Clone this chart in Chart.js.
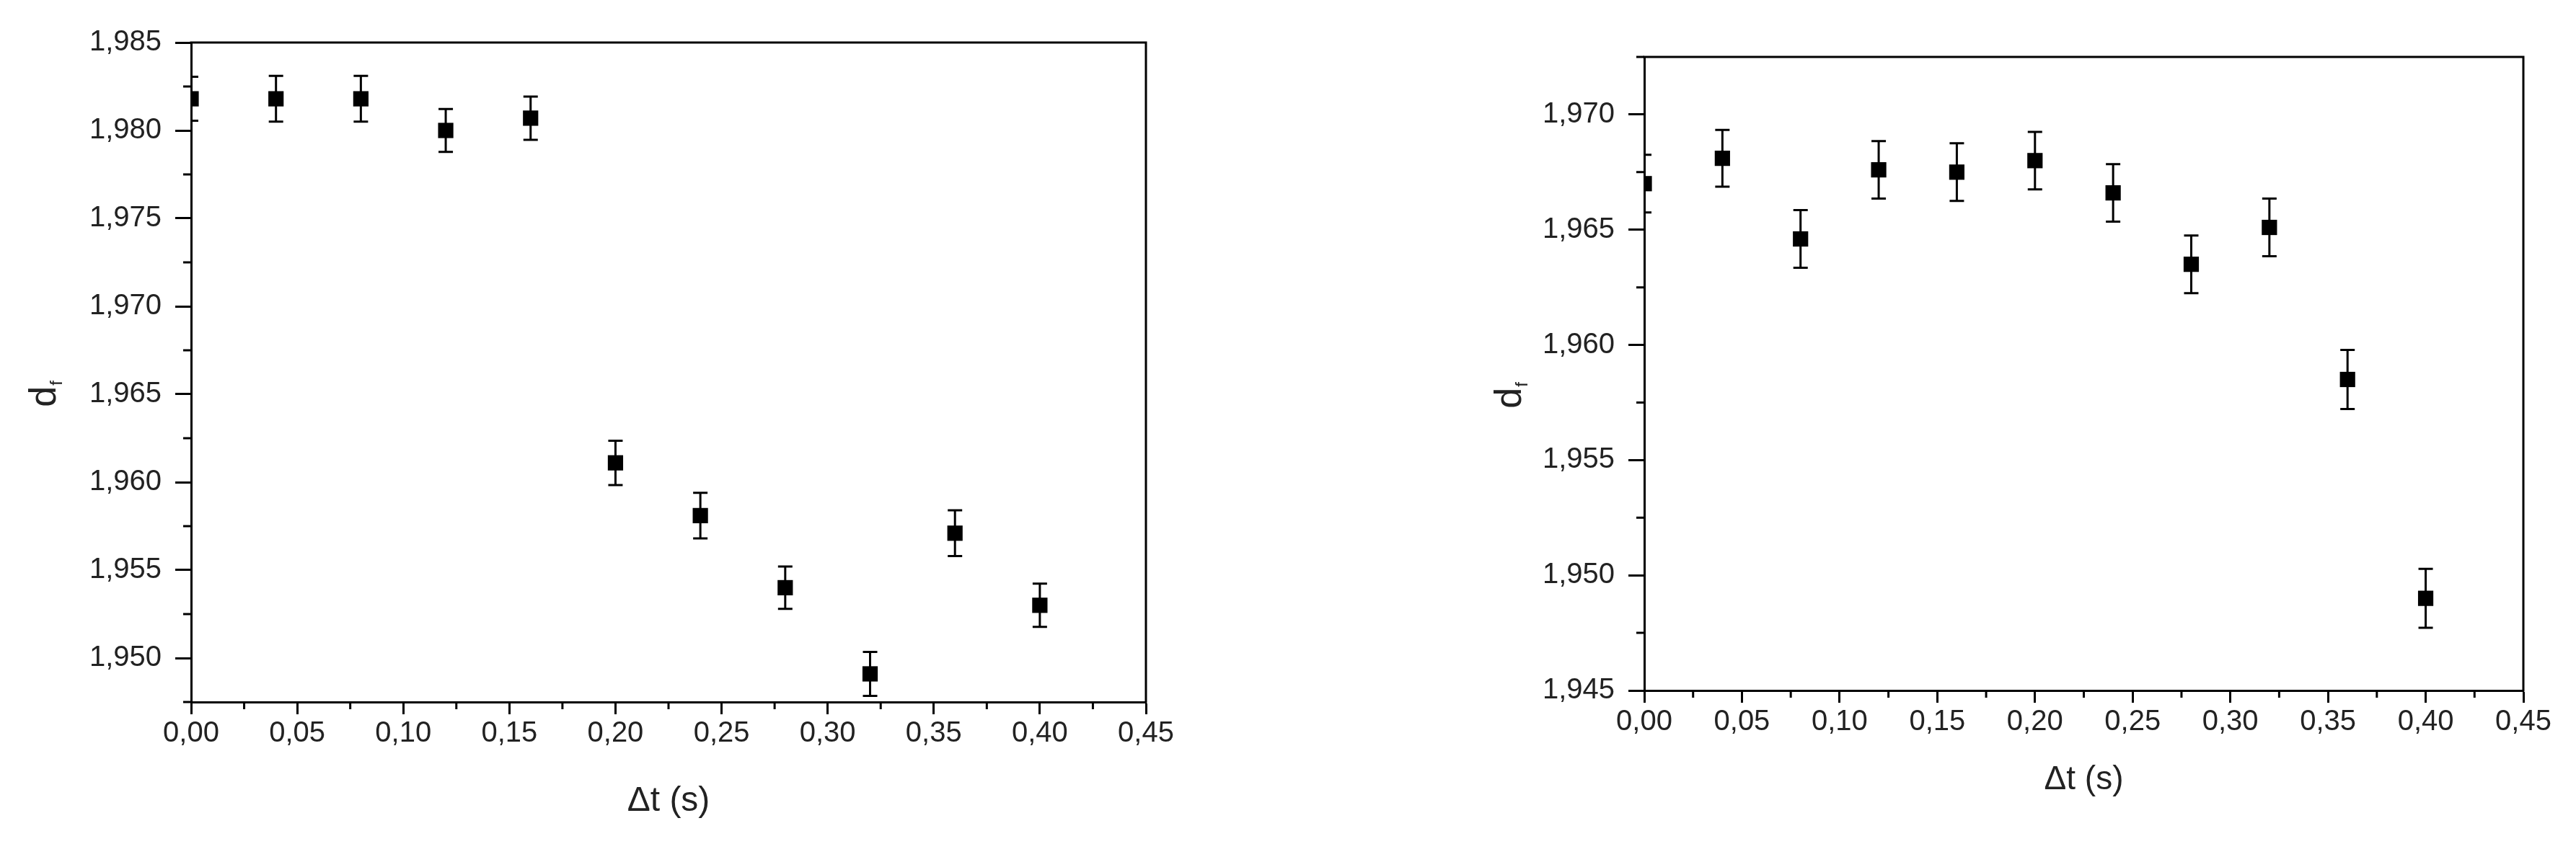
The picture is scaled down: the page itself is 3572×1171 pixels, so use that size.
<!DOCTYPE html>
<html>
<head>
<meta charset="utf-8">
<title>d_f vs Δt</title>
<script src="https://cdn.jsdelivr.net/npm/chart.js@4.4.1/dist/chart.umd.min.js"></script>
<style>
    html, body { margin: 0; padding: 0; background: #fff; }
    body { width: 3572px; height: 1171px; position: relative; overflow: hidden; }
    .panel { position: absolute; top: 0; width: 1786px; height: 1171px; }
</style>
</head>
<body>
<div class="panel" style="left:0"><canvas id="chartLeft" width="1786" height="1171"></canvas></div>
<div class="panel" style="left:1786px"><canvas id="chartRight" width="1786" height="1171"></canvas></div>

<script>
// Dados (Δt em s, d_f e barra de erro)
const timeSteps = [0.00, 0.04, 0.08, 0.12, 0.16, 0.20, 0.24, 0.28, 0.32, 0.36, 0.40];

const dfLeft  = [1.9818, 1.9818, 1.9818, 1.9800, 1.9807, 1.9611, 1.9581, 1.9540, 1.9491, 1.9571, 1.9530];
const errLeft = [0.00125, 0.00130, 0.00130, 0.00122, 0.00123, 0.00126, 0.00130, 0.00120, 0.00125, 0.00130, 0.00123];

const dfRight  = [1.9670, 1.9681, 1.9646, 1.9676, 1.9675, 1.9680, 1.9666, 1.9635, 1.9651, 1.9585, 1.9490];
const errRight = [0.00125, 0.00123, 0.00125, 0.00125, 0.00125, 0.00125, 0.00125, 0.00125, 0.00125, 0.00128, 0.00128];

// Marcas dos eixos
const xTicks      = [0.00, 0.05, 0.10, 0.15, 0.20, 0.25, 0.30, 0.35, 0.40, 0.45];
const xMinorTicks = [0.025, 0.075, 0.125, 0.175, 0.225, 0.275, 0.325, 0.375, 0.425];

const yTicksLeft      = [1.950, 1.955, 1.960, 1.965, 1.970, 1.975, 1.980, 1.985];
const yMinorTicksLeft = [1.9475, 1.9525, 1.9575, 1.9625, 1.9675, 1.9725, 1.9775, 1.9825];

const yTicksRight      = [1.945, 1.950, 1.955, 1.960, 1.965, 1.970];
const yMinorTicksRight = [1.9475, 1.9525, 1.9575, 1.9625, 1.9675, 1.9725];

const xTitle = 'Δt (s)';
const yTitleMain = 'd';
const yTitleSub = 'f';

const FONT = '"Liberation Sans", Arial, sans-serif';
const TEXT_COLOR = '#222';

/**
 * Plugin: barras de erro, moldura, marcas menores e títulos dos eixos
 */
const decorPlugin = {
    id: 'decor',

    beforeDatasetsDraw(chart, args, opts) {
        const { ctx, chartArea, scales } = chart;
        const x = scales.x;
        const y = scales.y;
        const values = chart.data.datasets[0].data;

        ctx.save();
        ctx.beginPath();
        ctx.rect(chartArea.left, chartArea.top, chartArea.width, chartArea.height);
        ctx.clip();
        ctx.strokeStyle = '#000';
        ctx.lineWidth = 3;
        values.forEach((p, i) => {
            const px = x.getPixelForValue(p.x);
            const top = y.getPixelForValue(p.y + opts.errors[i]);
            const bot = y.getPixelForValue(p.y - opts.errors[i]);
            ctx.beginPath();
            ctx.moveTo(px, top);
            ctx.lineTo(px, bot);
            ctx.moveTo(px - 10, top);
            ctx.lineTo(px + 10, top);
            ctx.moveTo(px - 10, bot);
            ctx.lineTo(px + 10, bot);
            ctx.stroke();
        });
        ctx.restore();
    },

    afterDraw(chart, args, opts) {
        const { ctx, chartArea, scales } = chart;
        const x = scales.x;
        const y = scales.y;

        ctx.save();
        ctx.strokeStyle = '#000';
        ctx.lineWidth = 3;
        ctx.lineCap = 'square';

        // Moldura superior e direita
        ctx.beginPath();
        ctx.moveTo(chartArea.left, chartArea.top);
        ctx.lineTo(chartArea.right, chartArea.top);
        ctx.lineTo(chartArea.right, chartArea.bottom);
        ctx.stroke();

        // Marcas menores
        ctx.lineCap = 'butt';
        ctx.beginPath();
        opts.yMinor.forEach(v => {
            const py = y.getPixelForValue(v);
            ctx.moveTo(chartArea.left - 11, py);
            ctx.lineTo(chartArea.left, py);
        });
        xMinorTicks.forEach(v => {
            const px = x.getPixelForValue(v);
            ctx.moveTo(px, chartArea.bottom);
            ctx.lineTo(px, chartArea.bottom + 10);
        });
        ctx.stroke();

        // Título do eixo x
        ctx.fillStyle = TEXT_COLOR;
        ctx.font = `${opts.xTitleSize}px ${FONT}`;
        ctx.textAlign = 'center';
        ctx.textBaseline = 'middle';
        ctx.fillText(xTitle, (chartArea.left + chartArea.right) / 2, chartArea.bottom + opts.xTitleOffset);

        // Título do eixo y (d com subscrito f), girado
        ctx.translate(opts.yTitleX, opts.yTitleY);
        ctx.rotate(-Math.PI / 2);
        ctx.textAlign = 'left';
        ctx.textBaseline = 'alphabetic';
        ctx.font = `52px ${FONT}`;
        const wMain = ctx.measureText(yTitleMain).width;
        ctx.font = `24px ${FONT}`;
        const wSub = ctx.measureText(yTitleSub).width;
        const start = -(wMain + wSub) / 2;
        ctx.font = `52px ${FONT}`;
        ctx.fillText(yTitleMain, start, 0);
        ctx.font = `24px ${FONT}`;
        ctx.fillText(yTitleSub, start + wMain + 1, 9);
        ctx.restore();
    }
};

function makeChart(canvasId, values, errors, yMin, yMax, yTicks, yMinor, geo) {
    const ctx = document.getElementById(canvasId).getContext('2d');

    return new Chart(ctx, {
        type: 'scatter',
        data: {
            datasets: [{
                data: timeSteps.map((t, i) => ({ x: t, y: values[i] })),
                pointStyle: 'rect',
                pointRadius: 15,
                pointHoverRadius: 15,
                backgroundColor: '#000',
                borderColor: '#000',
                borderWidth: 0,
                clip: 0
            }]
        },
        options: {
            responsive: false,
            devicePixelRatio: 1,
            animation: false,
            events: [],
            layout: {
                padding: { top: geo.top, right: geo.right, bottom: 0, left: 0 }
            },
            plugins: {
                legend: { display: false },
                tooltip: { enabled: false },
                decor: {
                    errors: errors,
                    yMinor: yMinor,
                    xTitleSize: geo.xTitleSize,
                    xTitleOffset: geo.xTitleOffset,
                    yTitleX: geo.yTitleX,
                    yTitleY: geo.yTitleY
                }
            },
            scales: {
                x: {
                    type: 'linear',
                    min: 0,
                    max: 0.45,
                    afterBuildTicks: scale => { scale.ticks = xTicks.map(v => ({ value: v })); },
                    afterFit: scale => { scale.height = geo.xAxisHeight; },
                    border: { display: true, color: '#000', width: 3 },
                    grid: {
                        display: true,
                        drawOnChartArea: false,
                        drawTicks: true,
                        tickLength: 17,
                        tickWidth: 3,
                        tickColor: '#000'
                    },
                    ticks: {
                        autoSkip: false,
                        maxRotation: 0,
                        padding: 3,
                        color: TEXT_COLOR,
                        font: { family: FONT, size: 40 },
                        callback: v => v.toFixed(2).replace('.', ',')
                    }
                },
                y: {
                    type: 'linear',
                    min: yMin,
                    max: yMax,
                    afterBuildTicks: scale => { scale.ticks = yTicks.map(v => ({ value: v })); },
                    afterFit: scale => { scale.width = geo.yAxisWidth; },
                    border: { display: true, color: '#000', width: 3 },
                    grid: {
                        display: true,
                        drawOnChartArea: false,
                        drawTicks: true,
                        tickLength: 22,
                        tickWidth: 3,
                        tickColor: '#000'
                    },
                    ticks: {
                        autoSkip: false,
                        padding: 19,
                        color: TEXT_COLOR,
                        font: { family: FONT, size: 40 },
                        callback: v => v.toFixed(3).replace('.', ',')
                    }
                }
            }
        },
        plugins: [decorPlugin]
    });
}

makeChart('chartLeft', dfLeft, errLeft, 1.9475, 1.985, yTicksLeft, yMinorTicksLeft, {
    top: 59, right: 197, yAxisWidth: 265, xAxisHeight: 197,
    xTitleSize: 48, xTitleOffset: 138, yTitleX: 77, yTitleY: 547
});

makeChart('chartRight', dfRight, errRight, 1.945, 1.9725, yTicksRight, yMinorTicksRight, {
    top: 79, right: 73, yAxisWidth: 494, xAxisHeight: 213,
    xTitleSize: 46, xTitleOffset: 124, yTitleX: 323, yTitleY: 549
});
</script>
</body>
</html>
